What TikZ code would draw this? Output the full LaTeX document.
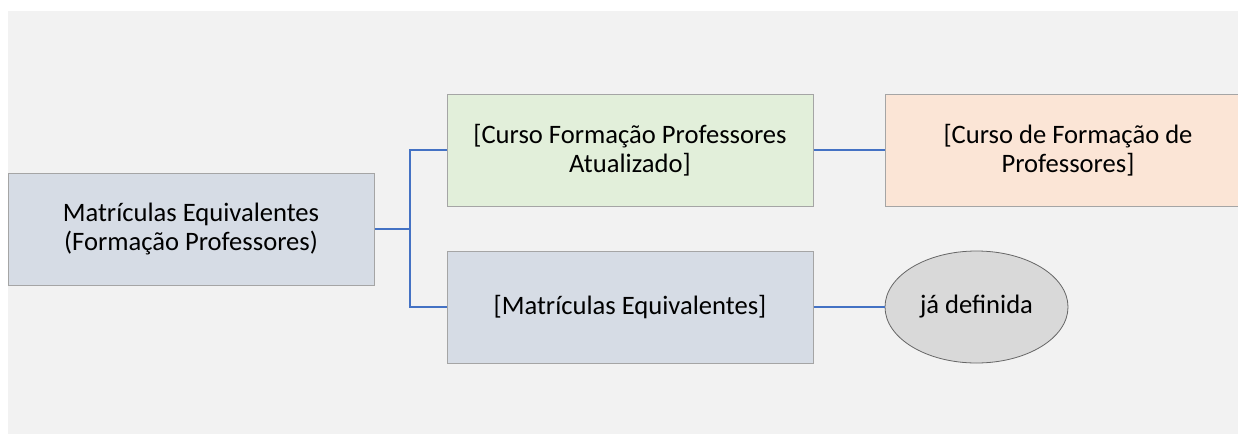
\documentclass[tikz,border=0pt]{standalone}
\usepackage{fontspec}
\setmainfont{Carlito}
\usetikzlibrary{shapes.geometric}
\definecolor{bgfill}{HTML}{F2F2F2}
\definecolor{bluefill}{HTML}{D6DCE5}
\definecolor{greenfill}{HTML}{E2EFDA}
\definecolor{orangefill}{HTML}{FBE5D6}
\definecolor{ovalfill}{HTML}{D9D9D9}
\definecolor{boxline}{HTML}{A5A5A5}
\definecolor{linkblue}{HTML}{4472C4}
\begin{document}
\begin{tikzpicture}[x=1pt, y=-1pt]
      \tikzstyle{every node}=[font=\fontsize{26.6}{29}\selectfont, align=center, inner sep=0pt]
      \tikzstyle{itembox}=[rectangle, draw=boxline, line width=1pt, minimum width=366pt, minimum height=112pt]
      \tikzstyle{itemoval}=[ellipse, draw=gray!80!black, line width=0.8pt, fill=ovalfill, minimum width=183pt, minimum height=112pt]
      \tikzstyle{link}=[linkblue, line width=2pt]

      \useasboundingbox (0,0) rectangle (1238,434);
      \clip (0,0) rectangle (1238,434);
      \fill [bgfill] (8,11) rectangle (1238,434);

      \path (191, 229) node [itembox, fill=bluefill] (main) {Matrículas Equivalentes\\(Formação Professores)};
      \path (630, 150) node [itembox, fill=greenfill] (cfpa) {[Curso Formação Professores\\Atualizado]};
      \path (630, 307) node [itembox, fill=bluefill] (mateq) {[Matrículas Equivalentes]};
      \path (1068, 150) node [itembox, fill=orangefill] (cfp) {[Curso de Formação de\\Professores]};
      \path (976.5, 307) node [itemoval] (def) {já definida};

      \coordinate (fork) at (410, 229);

      \draw [link]
        (main.east) -- (fork)
        (fork) |- (cfpa.west)
        (fork) |- (mateq.west);

      \draw [link]
        (cfpa.east) -- (cfp.west)
        (mateq.east) -- (def.west);
    \end{tikzpicture}
\end{document}
